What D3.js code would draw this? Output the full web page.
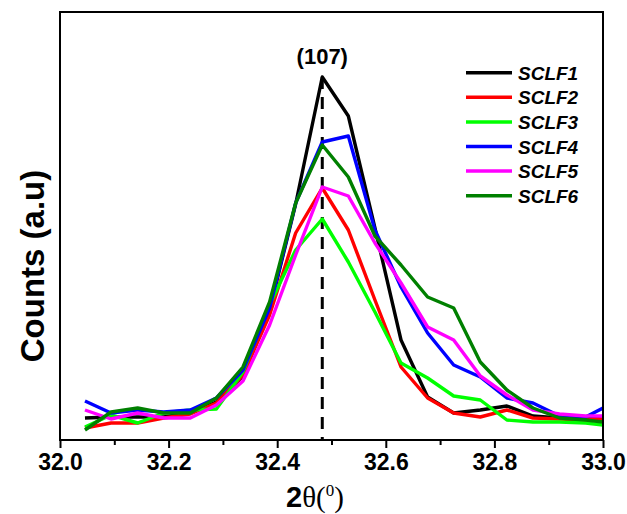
<!DOCTYPE html>
<html>
<head>
<meta charset="utf-8">
<script src="https://cdn.jsdelivr.net/npm/d3@7"></script>
<style>
        body { margin: 0; background: #fff; }
        text { font-family: "Liberation Sans", Arial, sans-serif; }
</style>
</head>
<body>
<svg id="chart" width="627" height="514"></svg>
<script>
// 2theta positions of the scan steps
var twoTheta = [32.046, 32.094, 32.143, 32.191, 32.240, 32.288, 32.337, 32.386, 32.434, 32.483,
        32.531, 32.580, 32.628, 32.677, 32.725, 32.774, 32.823, 32.871, 32.920, 32.968, 33.000]

var names = ['SCLF1', 'SCLF2', 'SCLF3', 'SCLF4', 'SCLF5', 'SCLF6']
var colors = ['#000000', '#ff0000', '#00ff00', '#0000ff', '#ff00ff', '#008000']

// counts (a.u.)
var sclf1 = [22, 23, 23, 23, 27, 38, 64, 130, 236, 363, 324, 212, 100, 43, 27, 30, 34, 24, 22, 22, 21]
var sclf2 = [12, 17, 17, 22, 26, 37, 65, 125, 207, 252, 210, 140, 73, 42, 27, 23, 30, 22, 21, 20, 21]
var sclf3 = [13, 25, 17, 27, 30, 31, 68, 135, 190, 221, 178, 128, 77, 62, 44, 40, 20, 18, 18, 17, 15]
var sclf4 = [39, 27, 30, 28, 30, 42, 70, 132, 237, 298, 304, 210, 153, 107, 75, 63, 42, 37, 24, 23, 32]
var sclf5 = [30, 21, 27, 22, 22, 35, 59, 115, 185, 253, 244, 197, 157, 113, 100, 64, 45, 30, 26, 24, 24]
var sclf6 = [10, 28, 32, 27, 27, 42, 73, 138, 237, 295, 263, 204, 175, 143, 132, 78, 50, 32, 22, 20, 18]

var peakPos = 32.483
var peakLabel = '(107)'
var xTicks = [32.0, 32.2, 32.4, 32.6, 32.8, 33.0]
var xMinor = [32.1, 32.3, 32.5, 32.7, 32.9]

var series = [sclf1, sclf2, sclf3, sclf4, sclf5, sclf6]

;(function (d3) {
        "use strict";

        var svg = d3.select('#chart')
        var m = { left: 60, right: 24, top: 12, bottom: 74 }
        var W = 627, H = 514

        var x = d3.scaleLinear().domain([32.0, 33.0]).range([m.left, W - m.right])
        var y = d3.scaleLinear().domain([0, 428]).range([H - m.bottom, m.top])

        svg.append('clipPath').attr('id', 'clip')
                .append('rect')
                .attr('x', x(32.0)).attr('y', y(428))
                .attr('width', x(33.0) - x(32.0)).attr('height', y(0) - y(428))

        // dashed marker for the (107) reflection
        svg.append('line')
                .attr('x1', x(peakPos)).attr('x2', x(peakPos))
                .attr('y1', y(363)).attr('y2', y(0))
                .attr('stroke', '#000').attr('stroke-width', 3)
                .attr('stroke-dasharray', '12,8')

        var line = d3.line()
                .x(function (d, i) { return x(twoTheta[i]) })
                .y(function (d) { return y(d) })

        svg.append('g').attr('clip-path', 'url(#clip)')
                .selectAll('path')
                .data(series)
                .enter()
                .append('path')
                .attr('d', line)
                .attr('fill', 'none')
                .attr('stroke', function (d, i) { return colors[i] })
                .attr('stroke-width', 3.4)
                .attr('stroke-linejoin', 'round')

        // frame
        svg.append('rect')
                .attr('x', x(32.0)).attr('y', y(428))
                .attr('width', x(33.0) - x(32.0)).attr('height', y(0) - y(428))
                .attr('fill', 'none').attr('stroke', '#000').attr('stroke-width', 2)

        var xAxis = svg.append('g')
                .attr('transform', 'translate(0,' + y(0) + ')')
                .call(d3.axisBottom(x).tickValues(xTicks).tickSize(8).tickPadding(6)
                        .tickFormat(d3.format('.1f')))
        xAxis.select('.domain').remove()
        xAxis.selectAll('line').attr('stroke-width', 2)
        xAxis.selectAll('text')
                .attr('font-size', 23).attr('font-weight', 'bold')
                .attr('fill', '#000')
                .style('font-family', '"Liberation Sans", Arial, sans-serif')

        svg.append('g')
                .attr('transform', 'translate(0,' + y(0) + ')')
                .call(d3.axisBottom(x).tickValues(xMinor).tickSize(5).tickFormat(''))
                .call(function (g) { g.select('.domain').remove() })
                .selectAll('line').attr('stroke-width', 2)

        // axis titles
        var xt = svg.append('text')
                .attr('x', 315).attr('y', 507)
                .attr('text-anchor', 'middle')
                .attr('font-size', 29)
        xt.append('tspan').attr('font-weight', 'bold').text('2')
        xt.append('tspan').style('font-family', '"Liberation Serif", "Times New Roman", serif').text('θ(')
        xt.append('tspan').style('font-family', '"Liberation Serif", "Times New Roman", serif')
                .attr('font-size', 17).attr('dy', -11).text('0')
        xt.append('tspan').style('font-family', '"Liberation Serif", "Times New Roman", serif')
                .attr('dy', 11).text(')')

        svg.append('text')
                .attr('transform', 'translate(44,' + 266 + ') rotate(-90)')
                .attr('text-anchor', 'middle')
                .attr('font-size', 33).attr('font-weight', 'bold')
                .text('Counts (a.u)')

        svg.append('text')
                .attr('x', x(peakPos)).attr('y', 64)
                .attr('text-anchor', 'middle')
                .attr('font-size', 22).attr('font-weight', 'bold')
                .text(peakLabel)

        // legend
        var legend = svg.append('g')
                .selectAll('g')
                .data(names)
                .enter()
                .append('g')
                .attr('transform', function (d, i) { return 'translate(466,' + (72.7 + i * 24.6) + ')' })

        legend.append('line')
                .attr('x1', 0).attr('x2', 46)
                .attr('stroke', function (d, i) { return colors[i] })
                .attr('stroke-width', 3.5)
        legend.append('text')
                .attr('x', 52).attr('y', 7)
                .attr('font-size', 19).attr('font-weight', 'bold').attr('font-style', 'italic')
                .text(function (d) { return d })

})(d3);
</script>
</body>
</html>
